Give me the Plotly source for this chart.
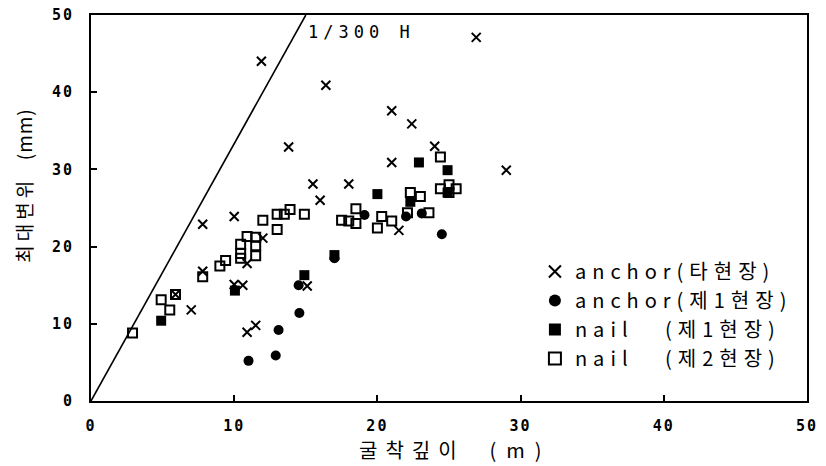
import plotly.graph_objects as go

# anchor (타현장)  : x = 굴착깊이 (m), y = 최대변위 (mm)
anc_other_x = [11.9, 16.4, 13.8, 15.5, 16.0, 26.9, 21.0, 22.4, 24.0, 21.0, 29.0, 18.0,
               7.8, 10.0, 12.0, 10.9, 7.8, 10.0, 10.6, 15.1, 7.0, 10.9, 11.5, 5.9, 21.5]
anc_other_y = [44.0, 40.9, 32.9, 28.1, 26.0, 47.1, 37.6, 35.9, 33.0, 30.9, 29.9, 28.1,
               22.9, 23.9, 21.1, 17.8, 16.8, 15.1, 15.0, 14.9, 11.8, 8.9, 9.8, 13.8, 22.1]
# anchor (제1현장)
anc_s1_x = [11.0, 12.9, 13.1, 14.55, 14.5, 17.0, 19.1, 24.5, 22.0, 23.1]
anc_s1_y = [5.2, 5.9, 9.2, 11.4, 15.0, 18.5, 24.1, 21.6, 23.9, 24.3]
# nail (제1현장)
nail_s1_x = [4.9, 10.05, 14.9, 17.0, 20.0, 22.9, 24.9, 24.9, 22.3]
nail_s1_y = [10.4, 14.3, 16.3, 18.9, 26.8, 30.9, 29.9, 27.0, 25.8]
# nail (제2현장)
nail_s2_x = [2.9, 4.9, 5.5, 5.9, 7.8, 9.0, 9.4, 10.45, 10.45, 10.45, 10.9, 11.5, 11.5, 11.5,
             12.0, 13.0, 13.0, 13.5, 13.9, 14.9, 17.5, 18.0, 18.5, 18.5, 20.0, 20.3, 21.0,
             22.3, 23.0, 22.1, 23.6, 24.4, 24.4, 25.0, 25.5, 25.0]
nail_s2_y = [8.8, 13.1, 11.8, 13.8, 16.1, 17.5, 18.2, 18.5, 19.1, 20.3, 21.3, 21.2, 20.1, 18.8,
             23.4, 22.2, 24.2, 24.2, 24.8, 24.2, 23.4, 23.3, 23.0, 24.9, 22.4, 23.9, 23.3,
             27.0, 26.5, 24.4, 24.4, 31.6, 27.5, 28.0, 27.5, 27.0]

# 1/300 H limit line
H_line = [0, 15]
limit_disp = [h * 1000 / 300 for h in H_line]

tick_vals = [0, 10, 20, 30, 40, 50]
tick_text = ["0", "10", "20", "30", "40", "50"]

MONO = "DejaVu Sans Mono"
KR = "Noto Sans CJK KR"
NB = "\u00a0"


def spaced(s, px):
    return '<span style="letter-spacing:%dpx">%s</span>' % (px, s)


fig = go.Figure()
fig.add_trace(go.Scatter(x=H_line, y=limit_disp, mode="lines",
                         line=dict(color="black", width=1.6), showlegend=False,
                         hoverinfo="skip"))
fig.add_trace(go.Scatter(x=anc_other_x, y=anc_other_y, mode="markers",
                         name=spaced("anchor(타현장)", 6),
                         marker=dict(symbol="x-thin", size=9, color="black",
                                     line=dict(color="black", width=2))))
fig.add_trace(go.Scatter(x=anc_s1_x, y=anc_s1_y, mode="markers",
                         name=spaced("anchor(제1현장)", 6),
                         marker=dict(symbol="circle", size=10, color="black")))
fig.add_trace(go.Scatter(x=nail_s1_x, y=nail_s1_y, mode="markers",
                         name=spaced("nail" + NB * 3 + "(제1현장)", 6),
                         marker=dict(symbol="square", size=10, color="black")))
fig.add_trace(go.Scatter(x=nail_s2_x, y=nail_s2_y, mode="markers",
                         name=spaced("nail" + NB * 3 + "(제2현장)", 6),
                         marker=dict(symbol="square-open", size=9, color="black",
                                     line=dict(color="black", width=2))))

fig.add_annotation(x=15.0, y=47.8, xref="x", yref="y", xanchor="left", yanchor="middle",
                   text=spaced("1/300" + NB + "H", 5), showarrow=False,
                   font=dict(family=MONO, size=17, color="black"))

fig.add_annotation(x=0.509, y=-0.125, xref="paper", yref="paper", xanchor="center",
                   yanchor="middle",
                   text=spaced("굴착깊이" + NB * 2, 8) + spaced("(m)", 10),
                   showarrow=False, font=dict(family=KR, size=20, color="black"))
fig.add_annotation(x=-0.094, y=0.557, xref="paper", yref="paper", xanchor="center",
                   yanchor="middle", textangle=-90,
                   text=spaced("최대변위" + NB * 2, 4) + spaced("(mm)", 1),
                   showarrow=False, font=dict(family=KR, size=19, color="black"))

axis_common = dict(range=[0, 50], tickvals=tick_vals,
                   ticktext=[spaced(t, 2) for t in tick_text],
                   ticks="inside", ticklen=6,
                   tickwidth=1.5, tickcolor="black", showline=True, linecolor="black",
                   linewidth=2, mirror=True, showgrid=False, zeroline=False,
                   automargin=False,
                   tickfont=dict(family=MONO, size=15, color="black", weight="bold"))

fig.update_layout(
    width=826, height=466,
    margin=dict(l=91, r=19, t=15, b=65),
    paper_bgcolor="white", plot_bgcolor="white",
    xaxis=dict(**axis_common, ticklabelstandoff=10),
    yaxis=dict(**axis_common, ticklabelstandoff=12),
    legend=dict(x=0.620, y=0.386, xanchor="left", yanchor="top",
                bgcolor="rgba(0,0,0,0)", borderwidth=0,
                font=dict(family=KR, size=20, color="black"),
                itemsizing="constant", tracegroupgap=0),
    showlegend=True,
)

fig.write_html("out.html", config={"displayModeBar": False},
               post_script="document.body.style.margin='0';")
